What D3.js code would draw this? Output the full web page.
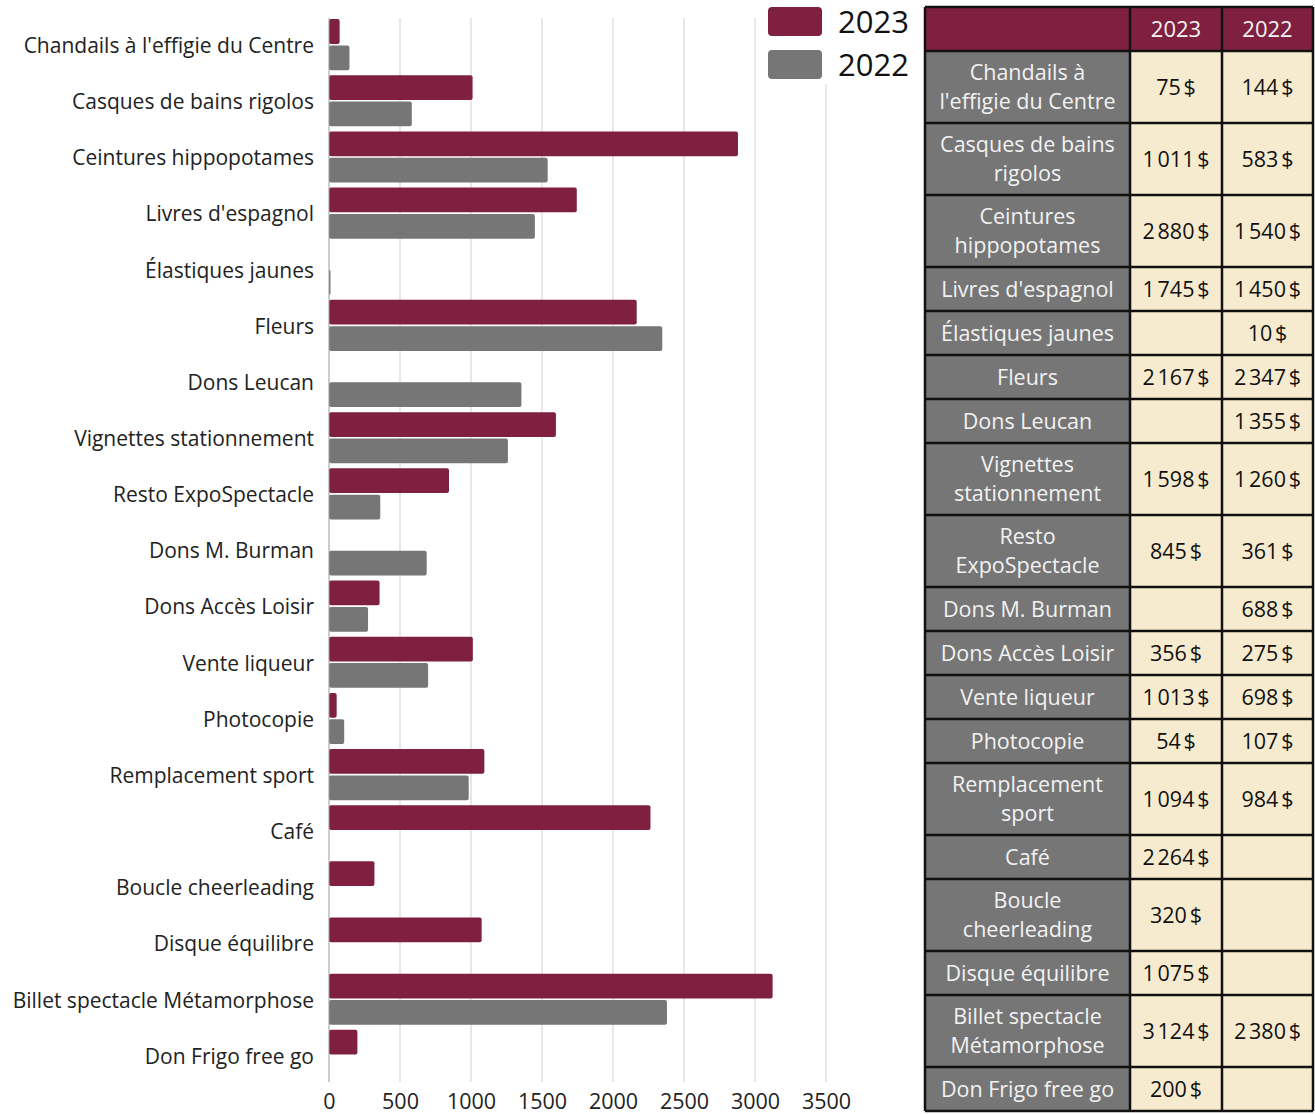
<!DOCTYPE html>
<html>
<head>
<meta charset="utf-8">
<script src="https://cdn.jsdelivr.net/npm/d3@7"></script>
<style>
  body { margin: 0; background: #fff; }
  svg { display: block; font-family: "Open Sans", "Noto Sans", sans-serif; }
</style>
</head>
<body>
<svg id="chart" width="1315" height="1115"></svg>
<script>
// Revenue items, in display order
const categories = [
  "Chandails à l'effigie du Centre",
  "Casques de bains rigolos",
  "Ceintures hippopotames",
  "Livres d'espagnol",
  "Élastiques jaunes",
  "Fleurs",
  "Dons Leucan",
  "Vignettes stationnement",
  "Resto ExpoSpectacle",
  "Dons M. Burman",
  "Dons Accès Loisir",
  "Vente liqueur",
  "Photocopie",
  "Remplacement sport",
  "Café",
  "Boucle cheerleading",
  "Disque équilibre",
  "Billet spectacle Métamorphose",
  "Don Frigo free go"
];

// Table labels, split over lines where the cell wraps
const tableLabels = [
  ["Chandails à", "l'effigie du Centre"],
  ["Casques de bains", "rigolos"],
  ["Ceintures", "hippopotames"],
  ["Livres d'espagnol"],
  ["Élastiques jaunes"],
  ["Fleurs"],
  ["Dons Leucan"],
  ["Vignettes", "stationnement"],
  ["Resto", "ExpoSpectacle"],
  ["Dons M. Burman"],
  ["Dons Accès Loisir"],
  ["Vente liqueur"],
  ["Photocopie"],
  ["Remplacement", "sport"],
  ["Café"],
  ["Boucle", "cheerleading"],
  ["Disque équilibre"],
  ["Billet spectacle", "Métamorphose"],
  ["Don Frigo free go"]
];

const series = ["2023", "2022"];
const values2023 = [75, 1011, 2880, 1745, null, 2167, null, 1598, 845, null, 356, 1013, 54, 1094, 2264, 320, 1075, 3124, 200];
const values2022 = [144, 583, 1540, 1450, 10, 2347, 1355, 1260, 361, 688, 275, 698, 107, 984, null, null, null, 2380, null];
const xTicks = [0, 500, 1000, 1500, 2000, 2500, 3000, 3500];

const colors = { "2023": "#7f2040", "2022": "#767676" };

const svg = d3.select("#chart");

// ---------- Bar chart ----------
const x = d3.scaleLinear().domain([0, 3500]).range([329, 826]);
const y = d3.scaleBand().domain(categories).range([18, 1082]).paddingInner(0.09).paddingOuter(0.02);
const sub = d3.scaleBand().domain(series).range([0, y.bandwidth()]).paddingInner(0.06);

// vertical gridlines
svg.append("g")
  .selectAll("line")
  .data(xTicks.slice(1))
  .join("line")
  .attr("x1", d => x(d)).attr("x2", d => x(d))
  .attr("y1", 18).attr("y2", 1082)
  .attr("stroke", "#cfcfcf").attr("stroke-width", 1);

const rows = categories.map((c, i) => ({ c, v: { "2023": values2023[i], "2022": values2022[i] } }));

const barG = svg.append("g");
rows.forEach(r => {
  series.forEach(s => {
    const v = r.v[s];
    if (v == null) return;
    barG.append("rect")
      .attr("x", x(0))
      .attr("y", y(r.c) + sub(s))
      .attr("width", Math.max(x(v) - x(0), 1.5))
      .attr("height", sub.bandwidth())
      .attr("rx", 2)
      .attr("fill", colors[s]);
  });
});

// zero baseline
svg.append("line")
  .attr("x1", x(0)).attr("x2", x(0))
  .attr("y1", 18).attr("y2", 1082)
  .attr("stroke", "#999").attr("stroke-width", 1);

// category labels
svg.append("g")
  .selectAll("text")
  .data(categories)
  .join("text")
  .attr("x", 314)
  .attr("y", d => y(d) + y.bandwidth() / 2 + 1)
  .attr("dy", "0.35em")
  .attr("text-anchor", "end")
  .attr("font-size", 21)
  .attr("fill", "#222")
  .text(d => d);

// x axis labels
const xAxis = d3.axisBottom(x).tickValues(xTicks).tickFormat(d3.format("d")).tickSize(0).tickPadding(12);
svg.append("g")
  .attr("transform", "translate(0,1082)")
  .call(xAxis)
  .call(g => g.select(".domain").remove())
  .call(g => g.selectAll("text").attr("font-size", 21.5).attr("fill", "#222")
    .attr("font-family", "\"Open Sans\", sans-serif"));

// legend
const legend = svg.append("g");
legend.append("rect").attr("x", 760).attr("y", 0).attr("width", 160).attr("height", 84).attr("fill", "#fff");
series.forEach((s, i) => {
  legend.append("rect")
    .attr("x", 768).attr("y", 7 + i * 43)
    .attr("width", 54).attr("height", 29).attr("rx", 4)
    .attr("fill", colors[s]);
  legend.append("text")
    .attr("x", 838).attr("y", 22 + i * 43)
    .attr("dy", "0.35em")
    .attr("font-size", 31)
    .attr("fill", "#111")
    .text(s);
});

// ---------- Table ----------
const fmt = v => v == null ? "" : d3.format(",")(v).replace(/,/g, "\u202F") + "\u202F$";

const colX = [925, 1130, 1222, 1313];
const headerTop = 7, headerH = 44;
const lineH = 29;
const rowH = tableLabels.map(l => l.length === 2 ? 72 : 44);
const rowY = [];
rowH.reduce((acc, h) => { rowY.push(acc); return acc + h; }, headerTop + headerH);
const tableBottom = rowY[rowY.length - 1] + rowH[rowH.length - 1];

const tbl = svg.append("g");

// header row
tbl.append("rect")
  .attr("x", colX[0]).attr("y", headerTop)
  .attr("width", colX[3] - colX[0]).attr("height", headerH)
  .attr("fill", "#7f2040");
series.forEach((s, j) => {
  tbl.append("text")
    .attr("x", (colX[j + 1] + colX[j + 2]) / 2)
    .attr("y", headerTop + headerH / 2)
    .attr("dy", "0.35em")
    .attr("text-anchor", "middle")
    .attr("font-size", 22)
    .attr("fill", "#f4f4f4")
    .text(s);
});

// body rows
tableLabels.forEach((lines, i) => {
  const y0 = rowY[i], h = rowH[i];
  tbl.append("rect").attr("x", colX[0]).attr("y", y0)
    .attr("width", colX[1] - colX[0]).attr("height", h).attr("fill", "#767676");
  tbl.append("rect").attr("x", colX[1]).attr("y", y0)
    .attr("width", colX[3] - colX[1]).attr("height", h).attr("fill", "#f7ebcf");
  const t = tbl.append("text")
    .attr("text-anchor", "middle")
    .attr("font-size", 21.5)
    .attr("fill", "#f2f2f2");
  lines.forEach((ln, k) => {
    t.append("tspan")
      .attr("x", (colX[0] + colX[1]) / 2)
      .attr("y", y0 + h / 2 + (k - (lines.length - 1) / 2) * lineH)
      .attr("dy", "0.35em")
      .text(ln);
  });
  [values2023[i], values2022[i]].forEach((v, j) => {
    tbl.append("text")
      .attr("x", (colX[j + 1] + colX[j + 2]) / 2)
      .attr("y", y0 + h / 2)
      .attr("dy", "0.35em")
      .attr("text-anchor", "middle")
      .attr("font-size", 21.5)
      .attr("fill", "#111")
      .text(fmt(v));
  });
});

// grid borders
const hLines = [headerTop, headerTop + headerH, ...rowY.slice(1), tableBottom];
tbl.append("g").selectAll("line").data(hLines).join("line")
  .attr("x1", colX[0]).attr("x2", colX[3])
  .attr("y1", d => d).attr("y2", d => d)
  .attr("stroke", "#111").attr("stroke-width", 2.5);
tbl.append("g").selectAll("line").data(colX).join("line")
  .attr("x1", d => d).attr("x2", d => d)
  .attr("y1", headerTop).attr("y2", tableBottom)
  .attr("stroke", "#111").attr("stroke-width", 2.5);
</script>
</body>
</html>
